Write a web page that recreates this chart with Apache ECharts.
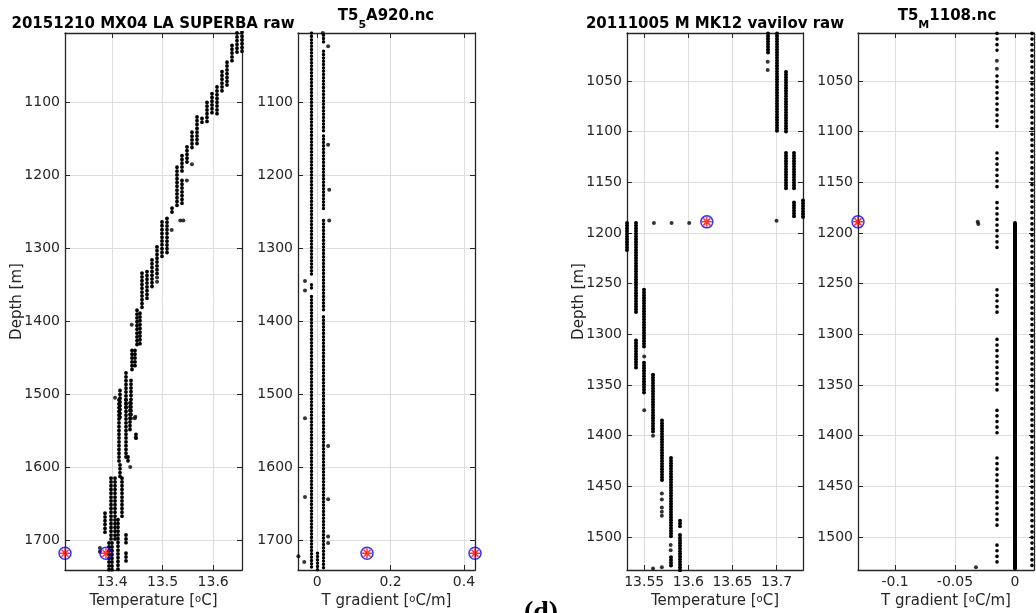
<!DOCTYPE html>
<html>
<head>
<meta charset="utf-8">
<script src="https://cdn.jsdelivr.net/npm/echarts@6/dist/echarts.min.js"></script>
<style>
  html, body { margin: 0; padding: 0; background: #fff; }
  #chart { width: 1036px; height: 613px; }
</style>
</head>
<body>
<div id="chart"></div>
<script>
// panel 1: 20151210 MX04 LA SUPERBA raw -- stacks of samples [temperature, depth top, depth bottom]
var superbaRuns = [
  [13.657, 1004, 1035], [13.647, 1005, 1033], [13.637, 1022, 1045], [13.627, 1045, 1077],
  [13.617, 1058, 1086], [13.607, 1079, 1118], [13.597, 1088, 1115], [13.588, 1100, 1128],
  [13.578, 1122, 1131], [13.568, 1120, 1157], [13.558, 1141, 1166], [13.548, 1161, 1184],
  [13.538, 1173, 1197], [13.528, 1189, 1243], [13.538, 1207, 1243], [13.518, 1245, 1252],
  [13.508, 1259, 1307], [13.498, 1264, 1316], [13.489, 1298, 1335], [13.479, 1316, 1357],
  [13.469, 1332, 1371], [13.459, 1334, 1382], [13.449, 1385, 1435], [13.455, 1389, 1435],
  [13.439, 1440, 1467], [13.445, 1440, 1462], [13.428, 1471, 1522], [13.437, 1481, 1536],
  [13.416, 1495, 1536], [13.413, 1508, 1595], [13.427, 1508, 1590], [13.436, 1512, 1553],
  [13.446, 1555, 1563], [13.432, 1586, 1595], [13.416, 1597, 1614], [13.398, 1615, 1700],
  [13.405, 1615, 1700], [13.419, 1615, 1668], [13.386, 1663, 1690], [13.411, 1672, 1741],
  [13.427, 1693, 1704], [13.427, 1718, 1732], [13.394, 1704, 1741], [13.400, 1704, 1741]
];
var superbaDots = [
  [13.558, 1185], [13.548, 1207], [13.535, 1262], [13.541, 1262], [13.518, 1275],
  [13.489, 1340], [13.489, 1346], [13.439, 1405], [13.406, 1505], [13.445, 1533],
  [13.446, 1531], [13.376, 1711], [13.376, 1716], [13.447, 1559], [13.436, 1600]
];
var superbaFlags = [[13.307, 1718], [13.388, 1718]];

// panel 2: T5_5A920.nc -- [gradient, depth top, depth bottom]
var a920Runs = [
  [-0.016, 1005, 1338], [-0.016, 1350, 1356], [-0.016, 1366, 1741],
  [0.0155, 1008, 1021], [0.0155, 1030, 1085], [0.0155, 1089, 1142], [0.0155, 1146, 1250],
  [0.0155, 1262, 1387], [0.0155, 1394, 1741], [0, 1718, 1741]
];
var a920Dots = [
  [0.0155, 1005], [0.030, 1023], [0.030, 1158], [0.033, 1220], [0.033, 1262], [0.030, 1571],
  [0.030, 1644], [0.030, 1695], [0.030, 1704], [-0.033, 1345], [-0.033, 1358],
  [-0.033, 1533], [-0.033, 1641], [-0.035, 1730], [-0.051, 1722]
];
var a920Flags = [[0.136, 1718], [0.43, 1718]];

// panel 3: 20111005 M MK12 vavilov raw
var vavilovRuns = [
  [13.53, 1190, 1218], [13.54, 1190, 1279], [13.54, 1306, 1333],
  [13.55, 1256, 1312], [13.55, 1328, 1358], [13.56, 1340, 1396],
  [13.57, 1385, 1445], [13.58, 1422, 1500], [13.58, 1520, 1530],
  [13.59, 1484, 1490], [13.59, 1498, 1533],
  [13.69, 1003, 1022], [13.70, 1003, 1100], [13.71, 1041, 1100],
  [13.71, 1121, 1158], [13.72, 1121, 1157], [13.72, 1170, 1185], [13.73, 1168, 1185]
];
var vavilovDots = [
  [13.55, 1322], [13.55, 1375], [13.56, 1400], [13.56, 1531], [13.57, 1457], [13.57, 1463],
  [13.57, 1471], [13.57, 1475], [13.57, 1479], [13.57, 1530], [13.58, 1508], [13.58, 1513],
  [13.69, 1031], [13.69, 1039], [13.70, 1188], [13.561, 1190], [13.581, 1190], [13.601, 1190]
];
var vavilovFlags = [[13.621, 1189]];

// panel 4: T5_M1108.nc
var m1108Runs = [
  [-0.015, 1003, 1022], [-0.015, 1045, 1100], [-0.015, 1121, 1157], [-0.015, 1170, 1217],
  [-0.015, 1256, 1279], [-0.015, 1305, 1357], [-0.015, 1375, 1401], [-0.015, 1422, 1490],
  [-0.015, 1508, 1530], [0.0145, 1003, 1533]
];
var m1108Solid = [[0, 1190, 1531]];
var m1108Dots = [[-0.015, 1030], [-0.015, 1038], [-0.031, 1189], [-0.0305, 1191], [-0.0325, 1530]];
var m1108Flags = [[-0.131, 1189]];

var FONT = 'DejaVu Sans';
var INK = '#262626';
var ASTERISK = 'path://M5,0V10M0,5H10M1.5,1.5L8.5,8.5M1.5,8.5L8.5,1.5';

var tempName = '{n|Temperature [}{s|o}{n|C]}';
var gradName = '{n|T gradient [}{s|o}{n|C/m]}';

var panels = [
  { left: 65, width: 177, xMin: 13.307, xMax: 13.657, xSplit: 4, yMin: 1005, yMax: 1741, ySplit: 5,
    name: tempName, depth: true, runs: superbaRuns, dots: superbaDots, flags: superbaFlags, dash: [0.1, 3.7], w: 3.8 },
  { left: 298, width: 177, xMin: -0.052, xMax: 0.43, xSplit: 2, yMin: 1005, yMax: 1741, ySplit: 5,
    name: gradName, runs: a920Runs, dots: a920Dots, flags: a920Flags, dash: [0.1, 3.2], w: 3.4 },
  { left: 627, width: 176, xMin: 13.5305, xMax: 13.730, xSplit: 4, yMin: 1002.6, yMax: 1532.6, ySplit: 10,
    name: tempName, depth: true, runs: vavilovRuns, dots: vavilovDots, flags: vavilovFlags, dash: [0.1, 2.6], w: 4 },
  { left: 858, width: 176, xMin: -0.131, xMax: 0.016, xSplit: 3, yMin: 1002.6, yMax: 1532.6, ySplit: 10,
    name: gradName, runs: m1108Runs, dots: m1108Dots, flags: m1108Flags, dash: [0.1, 5.5], w: 3.6, solid: m1108Solid }
];

function segs(runs) {
  return runs.map(function (r) {
    return { coords: [[r[0], r[1]], [r[0], r[2]]] };
  });
}

function plainNumber(v) {
  return String(parseFloat(v.toFixed(6)));
}

function axis(i, p, isX, position, main) {
  var a = {
    type: 'value',
    gridIndex: i,
    position: position,
    min: isX ? p.xMin : p.yMin,
    max: isX ? p.xMax : p.yMax,
    splitNumber: isX ? p.xSplit : p.ySplit,
    inverse: !isX,
    axisLine: { show: true, onZero: false, lineStyle: { color: INK, width: 1.3 } },
    axisTick: { show: true, inside: true, length: 5, lineStyle: { color: INK, width: 1 } },
    axisLabel: {
      show: main, margin: 5, interval: 0, fontSize: 14, fontFamily: FONT, color: INK,
      showMinLabel: false, showMaxLabel: false, formatter: plainNumber
    },
    splitLine: { show: main, lineStyle: { color: '#dedede', width: 1 } }
  };
  if (main && isX) {
    a.name = p.name;
    a.nameLocation = 'middle';
    a.nameGap = 24;
    a.nameMoveOverlap = false;
    a.nameTextStyle = {
      rich: {
        n: { fontSize: 15, fontFamily: FONT, color: INK, lineHeight: 18, verticalAlign: 'top' },
        s: { fontSize: 10, fontFamily: FONT, color: INK, lineHeight: 7, verticalAlign: 'top' }
      }
    };
  }
  if (main && !isX && p.depth) {
    a.name = 'Depth [m]';
    a.nameLocation = 'middle';
    a.nameGap = 40;
    a.nameRotate = 90;
    a.nameMoveOverlap = false;
    a.nameTextStyle = { fontSize: 15, fontFamily: FONT, color: INK };
  }
  return a;
}

var grids = [], xAxes = [], yAxes = [], series = [];
panels.forEach(function (p, i) {
  grids.push({ left: p.left, top: 33, width: p.width, height: 537, outerBoundsMode: 'none' });
  xAxes.push(axis(i, p, true, 'bottom', true));
  yAxes.push(axis(i, p, false, 'left', true));
  var xi = xAxes.length - 1, yi = yAxes.length - 1;
  xAxes.push(axis(i, p, true, 'top', false));
  yAxes.push(axis(i, p, false, 'right', false));

  series.push({
    type: 'lines', coordinateSystem: 'cartesian2d', xAxisIndex: xi, yAxisIndex: yi,
    silent: true, data: segs(p.runs),
    lineStyle: { color: '#000', width: p.w, type: p.dash, cap: 'round', opacity: 1 }
  });
  if (p.solid) {
    series.push({
      type: 'lines', coordinateSystem: 'cartesian2d', xAxisIndex: xi, yAxisIndex: yi,
      silent: true, data: segs(p.solid),
      lineStyle: { color: '#000', width: 4, type: 'solid', cap: 'round', opacity: 1 }
    });
  }
  series.push({
    type: 'scatter', xAxisIndex: xi, yAxisIndex: yi, silent: true,
    symbol: 'circle', symbolSize: 4, data: p.dots, itemStyle: { color: '#000' }
  });
  series.push({
    type: 'scatter', xAxisIndex: xi, yAxisIndex: yi, silent: true, clip: false, z: 5,
    symbol: 'circle', symbolSize: 12, data: p.flags,
    itemStyle: { color: 'rgba(0,0,0,0)', borderColor: '#0000ff', borderWidth: 1.5 }
  });
  series.push({
    type: 'scatter', xAxisIndex: xi, yAxisIndex: yi, silent: true, clip: false, z: 6,
    symbol: ASTERISK, symbolSize: 10, data: p.flags,
    itemStyle: { color: 'none', borderColor: '#ff0000', borderWidth: 1.5 }
  });
});

var titleRich = {
  a: { fontSize: 15, fontWeight: 'bold', fontFamily: FONT, fill: '#000', lineHeight: 18, verticalAlign: 'top' },
  b: { fontSize: 11, fontWeight: 'bold', fontFamily: FONT, fill: '#000', lineHeight: 12, padding: [11, 0, 0, 0], verticalAlign: 'top' }
};

function plainTitle(x, text) {
  return {
    type: 'text', x: x, y: 24, silent: true,
    style: { text: text, fontSize: 15, fontWeight: 'bold', fontFamily: FONT, fill: '#000',
             align: 'center', verticalAlign: 'middle', textAlign: 'center', textVerticalAlign: 'middle' }
  };
}
function subTitle(x, text) {
  return {
    type: 'text', x: x, y: 9, silent: true,
    style: { text: text, rich: titleRich, fill: '#000',
             align: 'center', verticalAlign: 'top', textAlign: 'center', textVerticalAlign: 'top' }
  };
}

var chart = echarts.init(document.getElementById('chart'), null, { renderer: 'canvas' });
chart.setOption({
  backgroundColor: '#fff',
  animation: false,
  grid: grids,
  xAxis: xAxes,
  yAxis: yAxes,
  series: series,
  graphic: [
    plainTitle(153, '20151210 MX04 LA SUPERBA raw'),
    subTitle(386, '{a|T5}{b|5}{a|A920.nc}'),
    plainTitle(715, '20111005 M MK12 vavilov raw'),
    subTitle(947, '{a|T5}{b|M}{a|1108.nc}'),
    {
      type: 'text', x: 541, y: 599, silent: true,
      style: { text: '(d)', fontSize: 28, fontWeight: 'bold', fontFamily: 'Liberation Serif', fill: '#000',
               align: 'center', verticalAlign: 'top', textAlign: 'center', textVerticalAlign: 'top' }
    }
  ]
});
</script>
</body>
</html>
